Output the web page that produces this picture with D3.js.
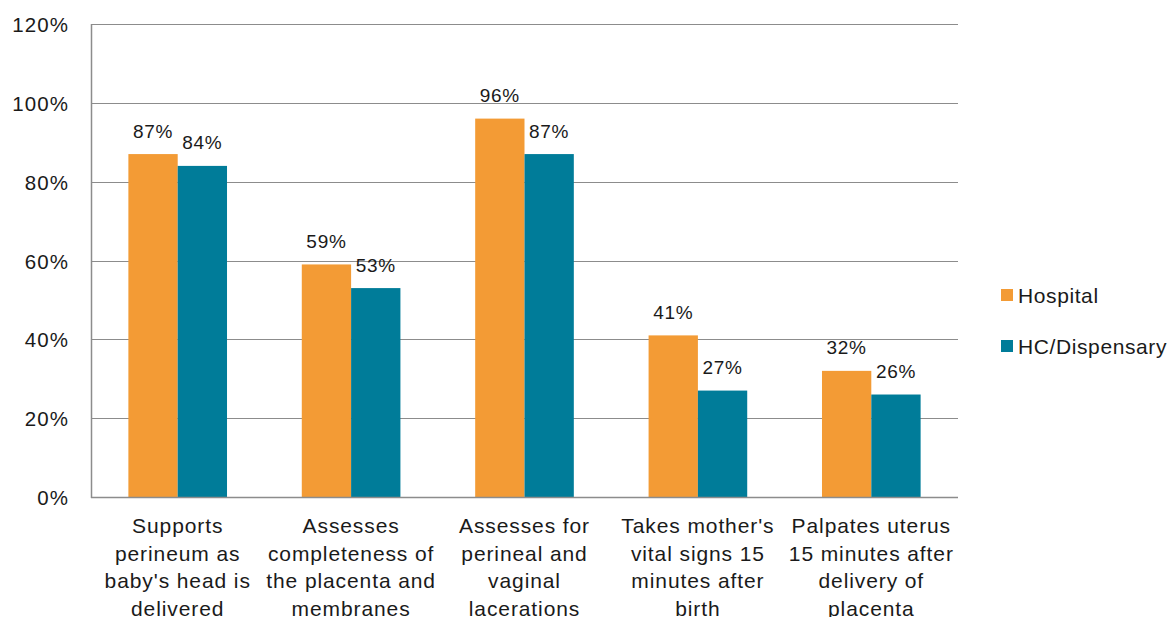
<!DOCTYPE html>
<html>
<head>
<meta charset="utf-8">
<script src="https://cdn.jsdelivr.net/npm/d3@7"></script>
<style>
  html, body { margin: 0; padding: 0; background: #fff; }
  svg text { font-family: "Liberation Sans", Arial, sans-serif; fill: #1a1a1a; }
</style>
</head>
<body>
<svg id="chart" width="1172" height="617"></svg>
<script>
// Categories (each label split into its wrapped lines)
const categories = [
  ["Supports", "perineum as", "baby's head is", "delivered"],
  ["Assesses", "completeness of", "the placenta and", "membranes"],
  ["Assesses for", "perineal and", "vaginal", "lacerations"],
  ["Takes mother's", "vital signs 15", "minutes after", "birth"],
  ["Palpates uterus", "15 minutes after", "delivery of", "placenta"]
];
const seriesNames = ["Hospital", "HC/Dispensary"];
const hospital = [87, 59, 96, 41, 32];
const hcDispensary = [84, 53, 87, 27, 26];
const yTicks = [0, 20, 40, 60, 80, 100, 120];
const colors = ["#F39B35", "#007C99"];

const svg = d3.select("#chart");
const margin = { left: 91, right: 958, top: 24, bottom: 497 };

const x = d3.scaleBand()
  .domain(d3.range(categories.length))
  .range([margin.left, margin.right])
  .paddingInner(0)
  .paddingOuter(0);

const xInner = d3.scaleBand()
  .domain(seriesNames)
  .range([0, x.bandwidth()])
  .paddingOuter(0.758)
  .paddingInner(0);

const y = d3.scaleLinear().domain([0, 120]).range([margin.bottom, margin.top]);

// Gridlines
svg.append("g")
  .selectAll("line")
  .data(yTicks.filter(d => d > 0))
  .join("line")
  .attr("x1", margin.left).attr("x2", margin.right)
  .attr("y1", d => Math.round(y(d)) + 0.5).attr("y2", d => Math.round(y(d)) + 0.5)
  .attr("stroke", "#8c8c8c").attr("stroke-width", 1.2);

// Y tick labels
svg.append("g")
  .selectAll("text")
  .data(yTicks)
  .join("text")
  .attr("x", 69)
  .attr("y", d => y(d) + 8)
  .attr("text-anchor", "end")
  .attr("font-size", 20.5)
  .attr("letter-spacing", 1.1)
  .text(d => d + "%");

// Bars
const rows = categories.map((c, i) => ({ i, values: [hospital[i], hcDispensary[i]] }));
const groups = svg.append("g")
  .selectAll("g")
  .data(rows)
  .join("g")
  .attr("transform", d => `translate(${x(d.i)},0)`);

groups.selectAll("rect")
  .data(d => d.values.map((v, k) => ({ v, k })))
  .join("rect")
  .attr("x", d => xInner(seriesNames[d.k]))
  .attr("width", xInner.bandwidth())
  .attr("y", d => y(d.v))
  .attr("height", d => y(0) - y(d.v))
  .attr("fill", d => colors[d.k]);

// Value labels
groups.selectAll("text.val")
  .data(d => d.values.map((v, k) => ({ v, k })))
  .join("text")
  .attr("class", "val")
  .attr("x", d => xInner(seriesNames[d.k]) + xInner.bandwidth() / 2)
  .attr("y", d => y(d.v) - 16.5)
  .attr("text-anchor", "middle")
  .attr("font-size", 19)
  .attr("letter-spacing", 0.7)
  .text(d => d.v + "%");

// Axis lines
svg.append("line")
  .attr("x1", margin.left + 0.5).attr("x2", margin.left + 0.5)
  .attr("y1", margin.top).attr("y2", margin.bottom + 1)
  .attr("stroke", "#8c8c8c").attr("stroke-width", 1.5);
svg.append("line")
  .attr("x1", margin.left).attr("x2", margin.right)
  .attr("y1", margin.bottom + 0.5).attr("y2", margin.bottom + 0.5)
  .attr("stroke", "#8c8c8c").attr("stroke-width", 1.5);

// Category labels
svg.append("g")
  .selectAll("text")
  .data(categories)
  .join("text")
  .attr("text-anchor", "middle")
  .attr("font-size", 21)
  .attr("letter-spacing", 0.9)
  .attr("transform", (d, i) => `translate(${x(i) + x.bandwidth() / 2},533)`)
  .selectAll("tspan")
  .data(d => d)
  .join("tspan")
  .attr("x", 0)
  .attr("y", (d, j) => j * 27.6)
  .text(d => d);

// Legend
const legend = svg.append("g")
  .selectAll("g")
  .data(seriesNames)
  .join("g")
  .attr("transform", (d, i) => `translate(1001,${289 + i * 51})`);
legend.append("rect")
  .attr("width", 12).attr("height", 12)
  .attr("fill", (d, i) => colors[i]);
legend.append("text")
  .attr("x", 17).attr("y", 14)
  .attr("font-size", 21)
  .attr("letter-spacing", 0.6)
  .text(d => d);
</script>
</body>
</html>
